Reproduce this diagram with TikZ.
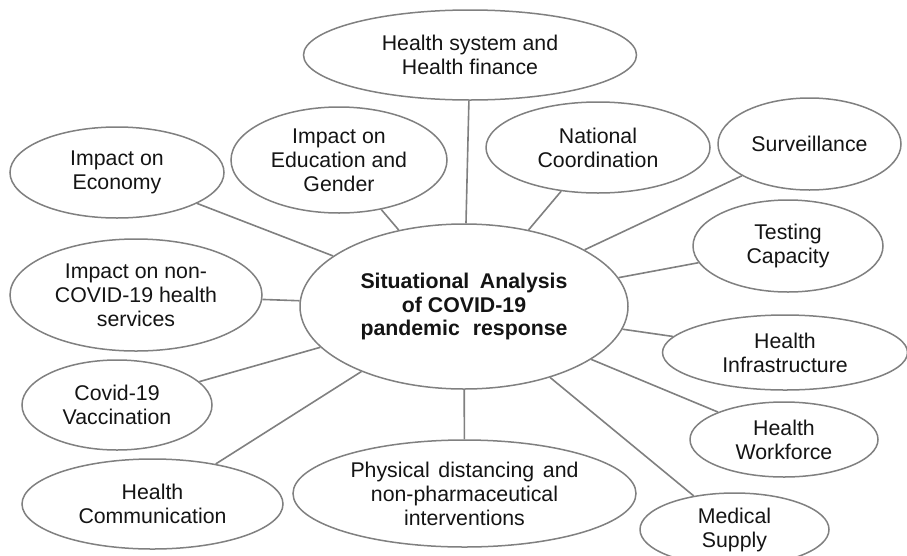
\documentclass[tikz,border=0pt]{standalone}
\usepackage{fontspec}
\setmainfont{Liberation Sans}
\usetikzlibrary{shapes.geometric}
\definecolor{edgegray}{RGB}{128,128,128}
\definecolor{txt}{RGB}{20,20,20}
\tikzset{
  bub/.style={ellipse, draw=edgegray, line width=1.5pt, fill=white, inner sep=0pt,
    align=center, text=txt, font=\fontsize{21.3}{24}\selectfont},
  conn/.style={draw=edgegray, line width=1.6pt}
}
\begin{document}
\begin{tikzpicture}[x=1pt,y=-1pt]
\useasboundingbox[fill=white] (0,0) rectangle (907,555);
% center
\node[bub, minimum width=328pt, minimum height=165pt, font=\bfseries\fontsize{21.3}{23.2}\selectfont] (c) at (464,306.5)
  {\makebox[207pt][s]{Situational Analysis}\\of COVID-19\\\makebox[207pt][s]{pandemic response}};
% satellites
\node[bub, minimum width=333pt, minimum height=90pt] (hs) at (470,55) {Health system and\\Health finance};
\node[bub, minimum width=216pt, minimum height=106pt] (ed) at (339,160) {Impact on\\Education and\\Gender};
\node[bub, minimum width=214pt, minimum height=91pt] (ec) at (117,172.5) {Impact on\\Economy};
\node[bub, minimum width=224pt, minimum height=91pt] (nc) at (598,147.5) {National\\Coordination};
\node[bub, minimum width=183pt, minimum height=92pt] (sv) at (809.5,144) {Surveillance};
\node[bub, minimum width=190pt, minimum height=92pt] (tc) at (788,246) {Testing\\Capacity};
\node[bub, minimum width=252pt, minimum height=112pt] (nh) at (136,295) {Impact on non-\\COVID-19 health\\services};
\node[bub, minimum width=190pt, minimum height=90pt] (vc) at (117,405) {Covid-19\\Vaccination};
\node[bub, minimum width=261pt, minimum height=90pt] (hc) at (152.5,504) {Health\\Communication};
\node[bub, minimum width=343pt, minimum height=107pt] (pd) at (464.5,493.5) {\makebox[228pt][s]{Physical distancing and}\\non-pharmaceutical\\interventions};
\node[bub, minimum width=245pt, minimum height=75pt] (hi) at (785,352.5) {Health\\Infrastructure};
\node[bub, minimum width=188pt, minimum height=75pt] (hw) at (784,439.5) {Health\\Workforce};
\node[bub, minimum width=189pt, minimum height=73pt] (ms) at (734.5,529.5) {Medical\\Supply};
% connectors
\foreach \n in {hs,ed,ec,nc,sv,tc,nh,vc,hc,pd,hi,hw,ms}
  \draw[conn] (\n) -- (c);
\end{tikzpicture}
\end{document}
